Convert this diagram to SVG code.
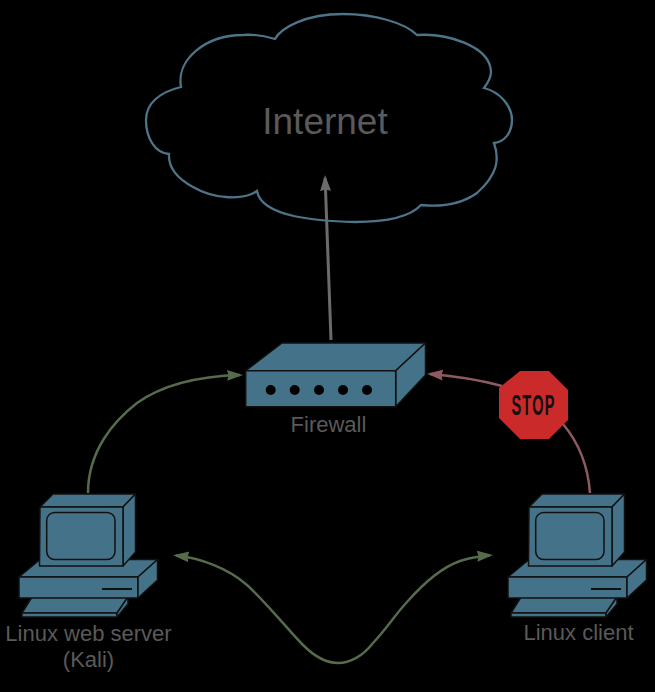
<svg xmlns="http://www.w3.org/2000/svg" xmlns:xlink="http://www.w3.org/1999/xlink" width="655" height="692" viewBox="0 0 655 692">
<style>
.lbl{font-family:"Liberation Sans",Arial,sans-serif;fill:#5a5a5a;font-size:22px;text-anchor:middle}
.dev{fill:#447288;stroke:#111;stroke-width:1.500;stroke-linejoin:round}
.c{fill:none;stroke-width:2.500}
</style>
<defs>
<marker id="ag" markerUnits="userSpaceOnUse" markerWidth="17" markerHeight="13" refX="13" refY="6" orient="auto-start-reverse"><path d="M0 .5L16 6L0 11.500L1.500 6Z" fill="#566b4c"/></marker>
<marker id="ar" markerUnits="userSpaceOnUse" markerWidth="17" markerHeight="13" refX="13" refY="6" orient="auto"><path d="M0 .5L16 6L0 11.500L1.500 6Z" fill="#8c5a60"/></marker>
<marker id="ak" markerUnits="userSpaceOnUse" markerWidth="17" markerHeight="13" refX="13" refY="6" orient="auto"><path d="M0 .5L16 6L0 11.500L1.500 6Z" fill="#6b6b6b"/></marker>
<g id="pc">
<path class="dev" d="M32 597H128L117 613H22Z"/>
<path class="dev" d="M22 613H117V617H22Z"/>
<path class="dev" d="M117 613L128 597V604L117 617Z"/>
<path class="dev" d="M19 577L40 559.500H157.500L138 577Z"/>
<path class="dev" d="M19 577H138V598H19Z"/>
<path class="dev" d="M138 577L157.500 559.500V580L138 598Z"/>
<path class="dev" d="M40 507L53 494H135.500L123 507Z"/>
<path class="dev" d="M123 507L135.500 494V552L123 566Z"/>
<path class="dev" d="M40 507H123V566H39.500Z"/>
<rect class="dev" x="46.700" y="512.500" width="68.300" height="47" rx="8"/>
<path d="M102 589H132" stroke="#111" stroke-width="2"/>
</g>
</defs>
<rect width="655" height="692" fill="#000"/>
<g id="connectors">
<path class="c" style="stroke-width:3" stroke="#6b6b6b" d="M331 340L325.100 178" marker-end="url(#ak)"/>
<path class="c" stroke="#566b4c" d="M88 493C88 450 115 420 137 403C165 383 205 376 240 375" marker-end="url(#ag)"/>
<path class="c" stroke="#8c5a60" d="M590 493C588 465 578 442 563 424"/>
<path class="c" stroke="#8c5a60" d="M502 386C480 380 455 376 430 374" marker-end="url(#ar)"/>
<path class="c" stroke="#566b4c" d="M176 555.500C200 558 228 568 247 585C265 601 290 632 303 645C315 657 328 663 338 663C350 663 363 656 373 643C387 628 395 615 407 602C422 585 440 568 460 561C470 558 480 556 490 555.300" marker-start="url(#ag)" marker-end="url(#ag)"/>
</g>
<g id="internet">
<path d="M275 39C281 28 305 14 343 14C375 14 405 23 417 35C445 33 490 45 491 72C491 78 487 84 484 88C500 92 512 106 512 120C512 132 505 142 494 143C500 160 497 175 477 193C460 205 440 207 421 205C408 219 380 222 355 222C320 221 262 218 257 191C245 200 215 200 193 187C180 180 168 170 169 154C155 153 146 138 146 120C146 103 160 92 181 87C176 60 205 35 243 35C255 34 265 36 275 39Z" fill="none" stroke="#4d7488" stroke-width="2.300"/>
<text x="325" y="134" class="lbl" style="font-size:37px">Internet</text>
</g>
<g id="firewall">
<path class="dev" d="M245.700 370.700L282 343H425.500L395.700 370.700Z"/>
<path class="dev" d="M395.700 370.700L425.500 343V375L395.700 406.700Z"/>
<path class="dev" d="M245.700 370.700H395.700V406.700H245.700Z"/>
<g fill="#000"><circle cx="270.700" cy="390" r="5"/><circle cx="294.700" cy="390" r="5"/><circle cx="319" cy="390" r="5"/><circle cx="343" cy="390" r="5"/><circle cx="367" cy="390" r="5"/></g>
<text x="328.500" y="432" class="lbl">Firewall</text>
</g>
<g id="stop">
<path d="M520 371H549L568 390V420L549 439H520L499 418V388Z" fill="#cb2a2a"/>
<text transform="translate(533.500 414.500) scale(.5 1)" font-family="'Liberation Sans',Arial,sans-serif" font-weight="700" font-size="29" letter-spacing="2.500" text-anchor="middle" fill="#111">STOP</text>
</g>
<g id="server">
<use xlink:href="#pc" href="#pc"/>
<text x="88.500" y="641" class="lbl">Linux web server</text>
<text x="88.500" y="667" class="lbl">(Kali)</text>
</g>
<g id="client">
<use xlink:href="#pc" href="#pc" x="489"/>
<text x="578.500" y="640" class="lbl">Linux client</text>
</g>
</svg>
